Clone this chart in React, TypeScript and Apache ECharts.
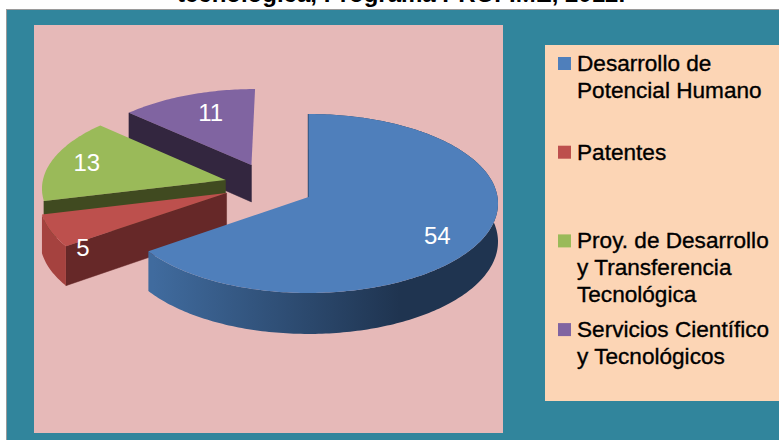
import React, { useEffect, useRef } from "react";
import * as echarts from "echarts";

const categories = [
  "Desarrollo de Potencial Humano",
  "Patentes",
  "Proy. de Desarrollo y Transferencia Tecnológica",
  "Servicios Científico y Tecnológicos",
];
const values = [54, 5, 13, 11];
const legendLines = [
  ["Desarrollo de", "Potencial Humano"],
  ["Patentes"],
  ["Proy. de Desarrollo", "y Transferencia", "Tecnológica"],
  ["Servicios Científico", "y Tecnológicos"],
];
const titleText = "tecnológica, Programa PROFIME, 2012.";

const topColors = ["#4f7fbb", "#bd504d", "#9aba59", "#8064a1"];
const wallColors = ["#1f3450", "#662828", "#404a20", "#33263f"];
const rimColors = ["#2b4565", "#a5423f", "#404a20", "#33263f"];
const rimVisible = [true, true, false, false];
const explodeX = [0, -0.435, -0.445, -0.31];
const explodeY = [0, -0.045, -0.195, -0.37];
const sliceRadius = [1, 0.985, 0.98, 0.96];
const labelRadius = [0.78, 0.925, 0.788, 0.689];
const labelAngleDelta = [5, -14.8, 0.8, 3];

const CX = 308.5;
const CY = 197;
const RX = 189;
const RY = 89;
const K = 0.0726;
const DEPTH = 38;
const FONT = '"Liberation Sans", Arial, sans-serif';

const total = values.reduce((a, b) => a + b, 0);
const starts: number[] = [];
values.reduce((acc, v, i) => {
  starts[i] = acc;
  return acc + (v / total) * 360;
}, 0);

function project(X: number, Y: number, down = 0): number[] {
  const w = 1 - K * Y;
  return [CX + (RX * X) / w, CY + (RY * Y) / w + (down * DEPTH) / w];
}

function renderSlice(params: any, api: any) {
  const i = params.dataIndex;
  const v = api.value(0);
  const a0 = starts[i];
  const a1 = a0 + (v / total) * 360;
  const ax = explodeX[i];
  const ay = explodeY[i];
  const disc = (deg: number, r: number) => {
    const t = (deg * Math.PI) / 180;
    return [ax + r * Math.sin(t), ay - r * Math.cos(t)];
  };
  const n = Math.max(8, Math.round(a1 - a0));
  const rimTop: number[][] = [];
  const rimBottom: number[][] = [];
  for (let s = 0; s <= n; s++) {
    const d = disc(a0 + ((a1 - a0) * s) / n, sliceRadius[i]);
    rimTop.push(project(d[0], d[1]));
    rimBottom.push(project(d[0], d[1], 1));
  }
  const apexTop = project(ax, ay);
  const apexBottom = project(ax, ay, 1);
  const base = (3 - i) * 10;
  const rimFill =
    i === 0
      ? new echarts.graphic.LinearGradient(
          153,
          0,
          400,
          0,
          [
            { offset: 0, color: "#406b9e" },
            { offset: 1, color: "#1f3450" },
          ],
          true,
        )
      : rimColors[i];
  const mid = (a0 + a1) / 2 + labelAngleDelta[i];
  const lp = disc(mid, labelRadius[i]);
  const labelAt = project(lp[0], lp[1]);
  const children: any[] = [
    {
      type: "polygon",
      z2: base,
      shape: { points: [apexTop, rimTop[0], rimBottom[0], apexBottom] },
      style: { fill: wallColors[i], stroke: wallColors[i], lineWidth: i === 0 ? 1.4 : 0.5 },
    },
  ];
  if (rimVisible[i]) {
    children.push({
      type: "polygon",
      z2: base + 1,
      shape: { points: rimTop.concat(rimBottom.slice().reverse()) },
      style: { fill: rimFill },
    });
  }
  children.push(
    {
      type: "polygon",
      z2: base + 2,
      shape: { points: [apexTop].concat(rimTop) },
      style: { fill: topColors[i] },
    },
    {
      type: "text",
      z2: 100,
      style: {
        x: labelAt[0],
        y: labelAt[1],
        text: String(v),
        fill: "#ffffff",
        font: `24px ${FONT}`,
        align: "center",
        verticalAlign: "middle",
      },
    },
  );
  return { type: "group", children };
}

function legendGraphics(): any[] {
  const out: any[] = [];
  const firstY = 57;
  const stepY = 88.7;
  legendLines.forEach((lines, i) => {
    const top = firstY + i * stepY;
    out.push({
      type: "rect",
      shape: { x: 558, y: top, width: 13, height: 13 },
      style: { fill: topColors[i] },
    });
    lines.forEach((line, j) => {
      out.push({
        type: "text",
        x: 577,
        y: top + 6.5 + j * 27,
        style: {
          text: line,
          fill: "#000000",
          stroke: "#000000",
          lineWidth: 0.35,
          font: `22.6px ${FONT}`,
          align: "left",
          verticalAlign: "middle",
        },
      });
    });
  });
  return out;
}

export default function App() {
  const ref = useRef<HTMLDivElement>(null);
  useEffect(() => {
    const chart = echarts.init(ref.current!, undefined, { renderer: "svg" });
    chart.setOption({
      animation: false,
      backgroundColor: "#ffffff",
      graphic: [
        { type: "rect", z: -10, shape: { x: 6, y: 9, width: 773, height: 431 }, style: { fill: "#9a9a9a" } },
        { type: "rect", z: -9, shape: { x: 7, y: 10, width: 772, height: 430 }, style: { fill: "#31859c" } },
        { type: "rect", z: -8, shape: { x: 34, y: 25, width: 469, height: 408 }, style: { fill: "#e6b9b8" } },
        { type: "rect", z: -8, shape: { x: 545, y: 45, width: 234, height: 356 }, style: { fill: "#fcd5b5" } },
        {
          type: "text",
          x: 401,
          y: -6.5,
          style: {
            text: titleText,
            fill: "#000000",
            font: `bold 24px ${FONT}`,
            align: "center",
            verticalAlign: "middle",
          },
        },
        ...legendGraphics(),
      ],
      series: [
        {
          type: "custom",
          coordinateSystem: "none",
          silent: true,
          z: 5,
          data: categories.map((name, i) => ({ name, value: [values[i]] })),
          renderItem: renderSlice,
        },
      ],
    });
    return () => chart.dispose();
  }, []);
  return <div ref={ref} style={{ position: "fixed", left: 0, top: 0, width: 779, height: 440 }} />;
}
